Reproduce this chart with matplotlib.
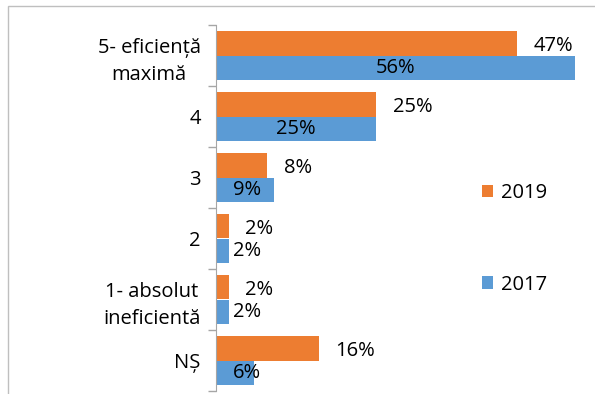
import numpy as np
import matplotlib
matplotlib.use("Agg")
import matplotlib.pyplot as plt
from matplotlib.patches import Rectangle

plt.rcParams['font.family'] = ['Open Sans', 'DejaVu Sans']

categories = ["5- eficiență\nmaximă", "4", "3", "2", "1- absolut\nineficientă", "NȘ"]
v2019 = [47, 25, 8, 2, 2, 16]
v2017 = [56, 25, 9, 2, 2, 6]
series = ["2019", "2017"]
orange = "#ED7D31"
blue = "#5B9BD5"

W, H = 595, 394
fig = plt.figure(figsize=(W / 100, H / 100), dpi=100)

# chart border (cut off at right and bottom like the reference)
fig.patches.append(Rectangle((8 / W, -0.05), 1.0, 1 - 6 / H + 0.05,
                             transform=fig.transFigure, fill=False,
                             edgecolor="#bfbfbf", lw=1.0))

ax = fig.add_axes([216 / W, 1 - 391 / H, (W - 216) / W, (391 - 25) / H])
y = np.arange(len(categories))
h = 0.4
ax.barh(y - h / 2, v2019, height=h, color=orange, label=series[0])
ax.barh(y + h / 2, v2017, height=h, color=blue, label=series[1])

ax.set_ylim(len(categories) - 0.5, -0.5)
ax.set_xlim(0, (W - 216) / 6.41)

fs = 14.5
for i in range(len(categories)):
    ax.annotate(f"{v2019[i]}%", (v2019[i], y[i] - h / 2 + 0.04),
                xytext=(12, 0), textcoords="offset points",
                ha="left", va="center", fontsize=fs, color="black")
    ax.text(max(v2017[i] / 2, 4.9), y[i] + h / 2, f"{v2017[i]}%",
            ha="center", va="center", fontsize=fs, color="black")

for s in ["top", "right", "bottom"]:
    ax.spines[s].set_visible(False)
ax.spines["left"].set_color("#a6a6a6")
ax.set_xticks([])
ax.set_yticks(y)
ax.set_yticklabels(categories, fontsize=fs, multialignment="center", linespacing=1.45)
ax.tick_params(axis="y", which="major", length=0, pad=11)
ax.set_yticks(np.arange(len(categories) + 1) - 0.5, minor=True)
ax.tick_params(axis="y", which="minor", length=6, color="#a6a6a6", width=1)

# legend
leg = ax.legend(loc="upper left", bbox_to_anchor=((472 - 216) / (W - 216), (391 - 173) / 366),
                frameon=False, fontsize=fs, handlelength=0.55, handleheight=0.55,
                handletextpad=0.4, labelspacing=3.55, borderpad=0)

fig.savefig("out.png", dpi=100)
